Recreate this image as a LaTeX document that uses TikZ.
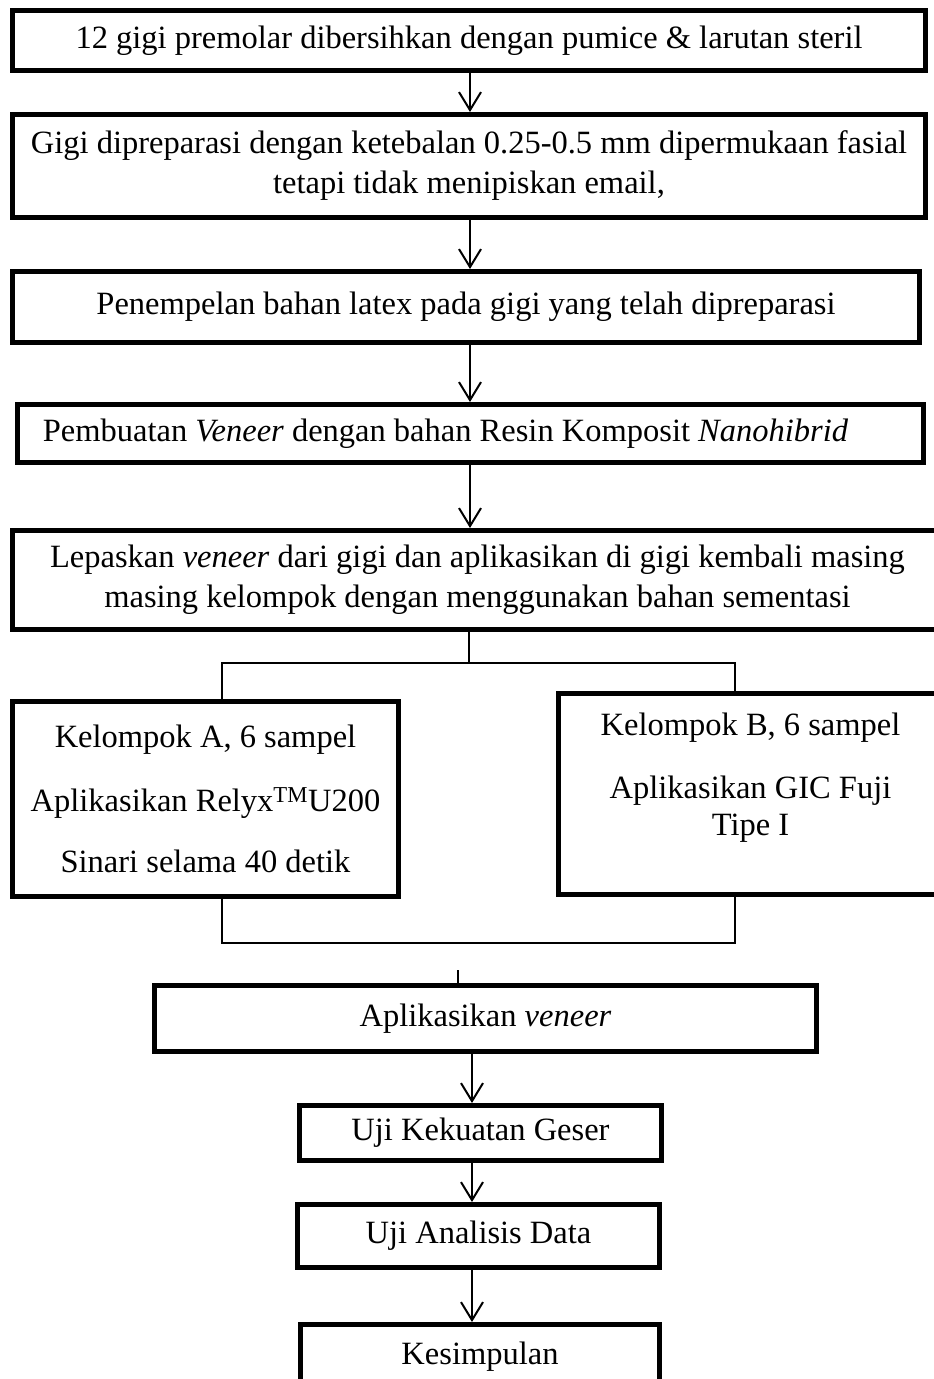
\documentclass[tikz,border=0pt]{standalone}
\usepackage{fontspec}
\setmainfont{Liberation Serif}
\usetikzlibrary{arrows.meta}

\begin{document}
\begin{tikzpicture}[x=1pt, y=-1pt,
    >={Straight Barb[length=18pt,width=22pt]},
    stepbox/.style={draw, line width=5pt, inner sep=0pt, align=center,
      font=\fontsize{32.5}{40}\selectfont},
    link/.style={line width=2pt}]
  \useasboundingbox (0,0) rectangle (934,1379);

  \node[stepbox, minimum width=913pt, minimum height=60pt] (clean) at (469,40.5)
    {12 gigi premolar dibersihkan dengan pumice \& larutan steril};
  \node[stepbox, minimum width=913pt, minimum height=103pt] (prep) at (469,166)
    {Gigi dipreparasi dengan ketebalan 0.25-0.5 mm dipermukaan fasial\\
     tetapi tidak menipiskan email,};
  \node[stepbox, minimum width=907pt, minimum height=71pt] (latex) at (466,307)
    {Penempelan bahan latex pada gigi yang telah dipreparasi};
  \node[stepbox, minimum width=906pt, minimum height=58pt] (make) at (470.5,433.5)
    {Pembuatan \textit{Veneer} dengan bahan Resin Komposit \textit{Nanohibrid}\hspace*{50pt}};
  \node[stepbox, minimum width=930pt, minimum height=99pt] (cement) at (477.5,580)
    {Lepaskan \textit{veneer} dari gigi dan aplikasikan di gigi kembali masing\\
     masing kelompok dengan menggunakan bahan sementasi};

  \node[stepbox, minimum width=386pt, minimum height=195pt] (groupA) at (205.5,799)
    {Kelompok A, 6 sampel\\[24pt]
     Aplikasikan Relyx\textsuperscript{TM}U200\\[21pt]
     Sinari selama 40 detik};
  \node[stepbox, minimum width=384pt, minimum height=201pt] (groupB) at (750.5,794)
    {Kelompok B, 6 sampel\\[23pt]
     Aplikasikan GIC Fuji\\[-3pt]
     Tipe I\\ \mbox{}};

  \node[stepbox, minimum width=662pt, minimum height=66pt] (apply) at (485.5,1018.5)
    {Aplikasikan \textit{veneer}};
  \node[stepbox, minimum width=362pt, minimum height=55pt] (shear) at (480.5,1133)
    {Uji Kekuatan Geser};
  \node[stepbox, minimum width=362pt, minimum height=63pt] (stats) at (478.5,1236)
    {Uji Analisis Data};
  \node[stepbox, minimum width=359pt, minimum height=65pt] (concl) at (480,1357)
    {Kesimpulan};

  \coordinate (col) at (470,0);
  \coordinate (split) at (469,663);
  \coordinate (splitA) at (222,663);
  \coordinate (splitB) at (735,663);
  \coordinate (joinA) at (222,943);
  \coordinate (joinB) at (735,943);
  \coordinate (tick) at (458,970);
  \coordinate (col2) at (472,0);

  \draw[link,->] (clean.south -| col) -- (prep.north -| col);
  \draw[link,->] (prep.south -| col) -- (latex.north -| col);
  \draw[link,->] (latex.south -| col) -- (make.north -| col);
  \draw[link,->] (make.south -| col) -- (cement.north -| col);

  \draw[link] (cement.south -| split) -- (split);
  \draw[link] (splitA |- groupA.north) -- (splitA) -- (splitB) -- (splitB |- groupB.north);
  \draw[link] (joinA |- groupA.south) -- (joinA) -- (joinB) -- (joinB |- groupB.south);
  \draw[link] (tick) -- (tick |- apply.north);

  \draw[link,->] (apply.south -| col2) -- (shear.north -| col2);
  \draw[link,->] (shear.south -| col2) -- (stats.north -| col2);
  \draw[link,->] (stats.south -| col2) -- (concl.north -| col2);
\end{tikzpicture}
\end{document}
